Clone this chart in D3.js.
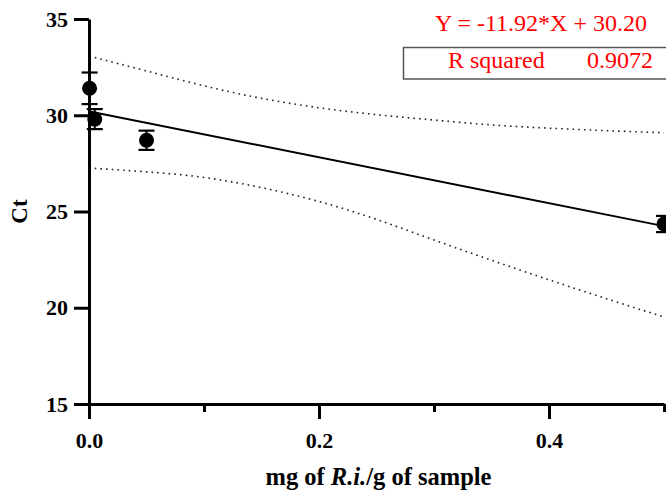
<!DOCTYPE html>
<html>
<head>
<meta charset="utf-8">
<script src="https://cdn.jsdelivr.net/npm/d3@7"></script>
<style>
  body { margin: 0; background: #fff; }
  svg { display: block; }
</style>
</head>
<body>
<div id="chart"></div>
<script>
// DATA ///////////////////////////////////////////////////////////
var doseX   = [0.0005, 0.005, 0.05, 0.5];
var ctMean  = [31.4, 29.8, 28.7, 24.35];
var ctErr   = [0.82, 0.52, 0.5, 0.42];

var slope = -11.92;
var intercept = 30.20;
var rSquared = "0.9072";

// 95% confidence band
var bandX     = [0.005, 0.05, 0.1, 0.15, 0.2, 0.25, 0.3, 0.35, 0.4, 0.45, 0.5];
var bandUpper = [33.0, 32.3, 31.53, 30.88, 30.39, 30.03, 29.75, 29.5, 29.33, 29.2, 29.09];
var bandLower = [27.24, 27.06, 26.77, 26.24, 25.52, 24.59, 23.52, 22.47, 21.45, 20.47, 19.52];

var yTicks = [15, 20, 25, 30, 35];
var xMajor = [0, 0.2, 0.4];
var xMinor = [0.1, 0.3, 0.5];

// SETUP //////////////////////////////////////////////////////////
var width = 666, height = 491;
var serif = "'Liberation Serif', 'Times New Roman', serif";

var x = d3.scaleLinear().domain([0, 0.5]).range([89, 664]);
var y = d3.scaleLinear().domain([15, 35]).range([404, 19]);

var svg = d3.select("#chart").append("svg")
  .attr("width", width).attr("height", height);

// BANDS //////////////////////////////////////////////////////////
var bandLine = function(vals){
  return d3.line().curve(d3.curveNatural)
    .x(function(d,i){ return x(bandX[i]); })
    .y(function(d){ return y(d); })(vals);
};

[bandUpper, bandLower].forEach(function(vals){
  svg.append("path").attr("d", bandLine(vals))
    .attr("fill", "none").attr("stroke", "#222")
    .attr("stroke-width", 1.6)
    .attr("stroke-dasharray", "1.6,4.1");
});

// REGRESSION LINE ////////////////////////////////////////////////
var fitX = [doseX[0], 0.5];
svg.append("path")
  .attr("d", d3.line()
    .x(function(d){ return x(d); })
    .y(function(d){ return y(slope * d + intercept); })(fitX))
  .attr("fill", "none").attr("stroke", "#000").attr("stroke-width", 2);

// AXES ///////////////////////////////////////////////////////////
var yAxis = svg.append("g").attr("transform", "translate(" + x(0) + ",0)")
  .call(d3.axisLeft(y).tickValues(yTicks).tickSize(15).tickSizeOuter(0).tickPadding(6)
    .tickFormat(d3.format("d")));

var xAxis = svg.append("g").attr("transform", "translate(0," + y(15) + ")")
  .call(d3.axisBottom(x).tickValues(xMajor).tickSize(15).tickSizeOuter(0).tickPadding(13)
    .tickFormat(d3.format(".1f")));

var xAxisMinor = svg.append("g").attr("transform", "translate(0," + y(15) + ")")
  .call(d3.axisBottom(x).tickValues(xMinor).tickSize(8).tickSizeOuter(0).tickFormat(""));
xAxisMinor.select(".domain").remove();

[yAxis, xAxis, xAxisMinor].forEach(function(g){
  g.selectAll("path, line").attr("stroke", "#000").attr("stroke-width", 3);
  g.selectAll("text").attr("fill", "#000")
    .style("font-family", serif).style("font-size", "22px").style("font-weight", "bold");
});

// POINTS + ERROR BARS ////////////////////////////////////////////
var pts = svg.append("g").selectAll("g").data(doseX).enter().append("g");

pts.append("line")
  .attr("x1", function(d){ return x(d); }).attr("x2", function(d){ return x(d); })
  .attr("y1", function(d,i){ return y(ctMean[i] + ctErr[i]); })
  .attr("y2", function(d,i){ return y(ctMean[i] - ctErr[i]); })
  .attr("stroke", "#000").attr("stroke-width", 2);

[1, -1].forEach(function(sign){
  pts.append("line")
    .attr("x1", function(d){ return x(d) - 8; }).attr("x2", function(d){ return x(d) + 8; })
    .attr("y1", function(d,i){ return y(ctMean[i] + sign * ctErr[i]); })
    .attr("y2", function(d,i){ return y(ctMean[i] + sign * ctErr[i]); })
    .attr("stroke", "#000").attr("stroke-width", 2.2);
});

pts.append("circle")
  .attr("cx", function(d){ return x(d); })
  .attr("cy", function(d,i){ return y(ctMean[i]); })
  .attr("r", 7.5).attr("fill", "#000");

// TITLES /////////////////////////////////////////////////////////
svg.append("text")
  .attr("transform", "translate(27," + ((y(15) + y(35)) / 2) + ") rotate(-90)")
  .attr("text-anchor", "middle")
  .style("font-family", serif).style("font-size", "23px").style("font-weight", "bold")
  .text("Ct");

var xt = svg.append("text")
  .attr("x", (x(0) + x(0.5)) / 2 + 2).attr("y", 485)
  .attr("text-anchor", "middle")
  .style("font-family", serif).style("font-size", "24.5px").style("font-weight", "bold");
xt.append("tspan").text("mg of ");
xt.append("tspan").style("font-style", "italic").text("R.i.");
xt.append("tspan").text("/g of sample");

// EQUATION BOX ///////////////////////////////////////////////////
svg.append("text")
  .attr("x", 541).attr("y", 31)
  .attr("text-anchor", "middle").attr("fill", "#f00")
  .style("font-family", serif).style("font-size", "24px")
  .text("Y = " + slope.toFixed(2) + "*X + " + intercept.toFixed(2));

svg.append("rect")
  .attr("x", 403.5).attr("y", 47.5).attr("width", 270).attr("height", 31.5)
  .attr("fill", "none").attr("stroke", "#555").attr("stroke-width", 1.5);

svg.append("text")
  .attr("x", 448).attr("y", 68).attr("fill", "#f00")
  .style("font-family", serif).style("font-size", "24px")
  .text("R squared");

svg.append("text")
  .attr("x", 653).attr("y", 68).attr("text-anchor", "end").attr("fill", "#f00")
  .style("font-family", serif).style("font-size", "24px")
  .text(rSquared);
</script>
</body>
</html>
